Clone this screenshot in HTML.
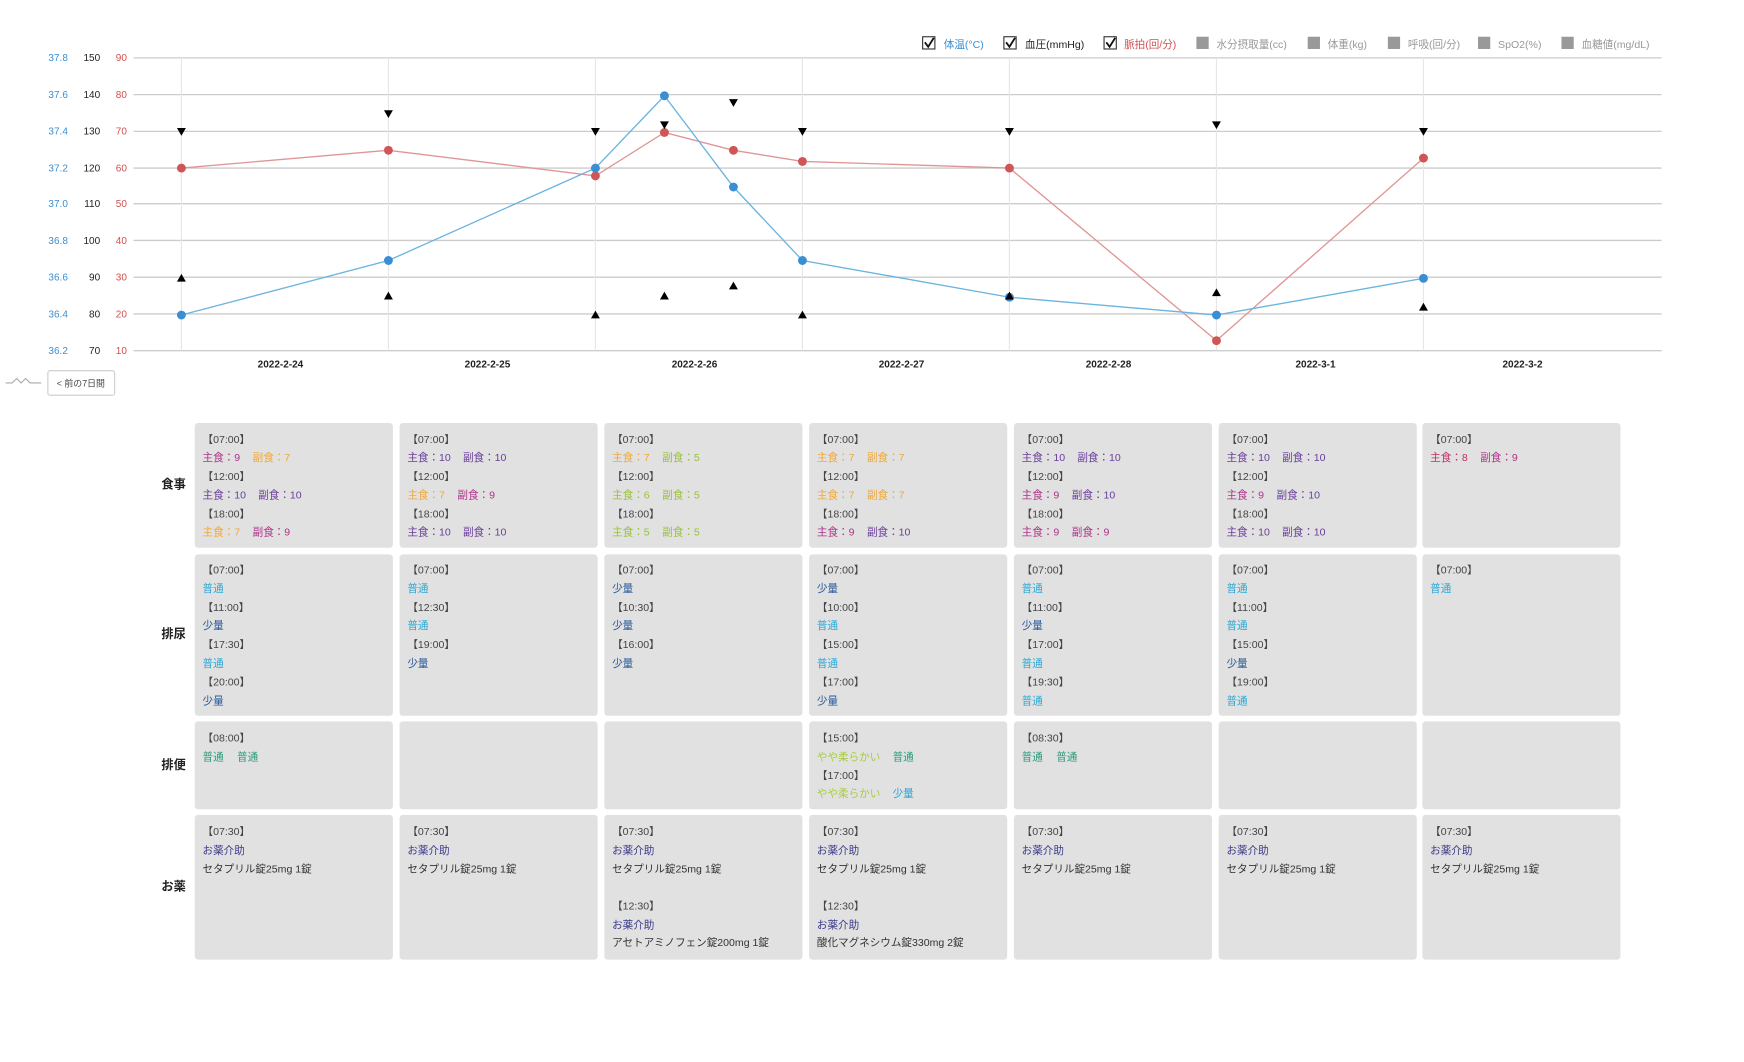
<!DOCTYPE html>
<html><head><meta charset="utf-8"><style>
html,body{margin:0;padding:0;background:#fff;}
svg{display:block;font-family:"Liberation Sans","Noto Sans CJK JP",sans-serif;}
.ax{font-size:9px;}
</style></head><body>
<svg width="1744" height="1062" viewBox="0 0 1567 954" preserveAspectRatio="none">
<g font-size="9.5">
<rect x="829" y="33" width="11" height="11" fill="#fff" stroke="#333"/><path d="M831 38 l3 4 l5 -8" stroke="#111" stroke-width="1.6" fill="none"/><text x="848" y="43" fill="#3a8fd4">体温(°C)</text>
<rect x="902" y="33" width="11" height="11" fill="#fff" stroke="#333"/><path d="M904 38 l3 4 l5 -8" stroke="#111" stroke-width="1.6" fill="none"/><text x="921" y="43" fill="#222">血圧(mmHg)</text>
<rect x="992" y="33" width="11" height="11" fill="#fff" stroke="#333"/><path d="M994 38 l3 4 l5 -8" stroke="#111" stroke-width="1.6" fill="none"/><text x="1010" y="43" fill="#d05050">脈拍(回/分)</text>
<rect x="1075" y="33" width="11" height="11" fill="#999"/><text x="1093" y="43" fill="#999">水分摂取量(cc)</text>
<rect x="1175" y="33" width="11" height="11" fill="#999"/><text x="1193" y="43" fill="#999">体重(kg)</text>
<rect x="1247" y="33" width="11" height="11" fill="#999"/><text x="1265" y="43" fill="#999">呼吸(回/分)</text>
<rect x="1328" y="33" width="11" height="11" fill="#999"/><text x="1346" y="43" fill="#999">SpO2(%)</text>
<rect x="1403" y="33" width="11" height="11" fill="#999"/><text x="1421" y="43" fill="#999">血糖値(mg/dL)</text>
</g>
<g stroke="#ccc" stroke-width="1.2">
<line x1="120" y1="52" x2="1493" y2="52"/><line x1="120" y1="85" x2="1493" y2="85"/><line x1="120" y1="118" x2="1493" y2="118"/><line x1="120" y1="151" x2="1493" y2="151"/><line x1="120" y1="183" x2="1493" y2="183"/><line x1="120" y1="216" x2="1493" y2="216"/><line x1="120" y1="249" x2="1493" y2="249"/><line x1="120" y1="282" x2="1493" y2="282"/><line x1="120" y1="315" x2="1493" y2="315"/>
</g>
<g stroke="#e6e6e6" stroke-width="1">
<line x1="163" y1="52" x2="163" y2="315"/><line x1="349" y1="52" x2="349" y2="315"/><line x1="535" y1="52" x2="535" y2="315"/><line x1="721" y1="52" x2="721" y2="315"/><line x1="907" y1="52" x2="907" y2="315"/><line x1="1093" y1="52" x2="1093" y2="315"/><line x1="1279" y1="52" x2="1279" y2="315"/>
</g>
<g class="ax" fill="#3a8fd4" text-anchor="end">
<text x="61" y="55">37.8</text><text x="61" y="88">37.6</text><text x="61" y="121">37.4</text><text x="61" y="154">37.2</text><text x="61" y="186">37.0</text><text x="61" y="219">36.8</text><text x="61" y="252">36.6</text><text x="61" y="285">36.4</text><text x="61" y="318">36.2</text>
</g>
<g class="ax" fill="#222" text-anchor="end">
<text x="90" y="55">150</text><text x="90" y="88">140</text><text x="90" y="121">130</text><text x="90" y="154">120</text><text x="90" y="186">110</text><text x="90" y="219">100</text><text x="90" y="252">90</text><text x="90" y="285">80</text><text x="90" y="318">70</text>
</g>
<g class="ax" fill="#d05050" text-anchor="end">
<text x="114" y="55">90</text><text x="114" y="88">80</text><text x="114" y="121">70</text><text x="114" y="154">60</text><text x="114" y="186">50</text><text x="114" y="219">40</text><text x="114" y="252">30</text><text x="114" y="285">20</text><text x="114" y="318">10</text>
</g>
<g font-size="9" font-weight="bold" fill="#222" text-anchor="middle">
<text x="252" y="330">2022-2-24</text><text x="438" y="330">2022-2-25</text><text x="624" y="330">2022-2-26</text><text x="810" y="330">2022-2-27</text><text x="996" y="330">2022-2-28</text><text x="1182" y="330">2022-3-1</text><text x="1368" y="330">2022-3-2</text>
</g>
<polyline fill="none" stroke="#e09595" stroke-width="1.2" points="163,151 349,135 535,158 597,119 659,135 721,145 907,151 1093,306 1279,142"/>
<polyline fill="none" stroke="#6ab4e0" stroke-width="1.2" points="163,283 349,234 535,151 597,86 659,168 721,234 907,267 1093,283 1279,250"/>
<g fill="#d05555"><circle cx="163" cy="151" r="4"/><circle cx="349" cy="135" r="4"/><circle cx="535" cy="158" r="4"/><circle cx="597" cy="119" r="4"/><circle cx="659" cy="135" r="4"/><circle cx="721" cy="145" r="4"/><circle cx="907" cy="151" r="4"/><circle cx="1093" cy="306" r="4"/><circle cx="1279" cy="142" r="4"/></g>
<g fill="#3a8fd4"><circle cx="163" cy="283" r="4"/><circle cx="349" cy="234" r="4"/><circle cx="535" cy="151" r="4"/><circle cx="597" cy="86" r="4"/><circle cx="659" cy="168" r="4"/><circle cx="721" cy="234" r="4"/><circle cx="907" cy="267" r="4"/><circle cx="1093" cy="283" r="4"/><circle cx="1279" cy="250" r="4"/></g>
<g fill="#000">
<path d="M159 115h8l-4 7z"/><path d="M345 99h8l-4 7z"/><path d="M531 115h8l-4 7z"/><path d="M593 109h8l-4 7z"/><path d="M655 89h8l-4 7z"/><path d="M717 115h8l-4 7z"/><path d="M903 115h8l-4 7z"/><path d="M1089 109h8l-4 7z"/><path d="M1275 115h8l-4 7z"/>
<path d="M159 253h8l-4 -7z"/><path d="M345 269h8l-4 -7z"/><path d="M531 286h8l-4 -7z"/><path d="M593 269h8l-4 -7z"/><path d="M655 260h8l-4 -7z"/><path d="M717 286h8l-4 -7z"/><path d="M903 269h8l-4 -7z"/><path d="M1089 266h8l-4 -7z"/><path d="M1275 279h8l-4 -7z"/>
</g>
<path d="M5 344 h6 l4 -4 l4 4 l4 -4 l4 4 h10" fill="none" stroke="#aaa" stroke-width="1"/>
<rect x="43" y="333" width="60" height="22" rx="2" fill="#fff" stroke="#ccc"/>
<text x="51" y="347" font-size="8" fill="#444">&lt; 前の7日間</text>
<g font-size="11" font-weight="bold" fill="#222">
<text x="145" y="439">食事</text><text x="145" y="573">排尿</text><text x="145" y="691">排便</text><text x="145" y="800">お薬</text>
</g>
<g fill="#e1e1e1">
<rect x="175" y="380" width="178" height="112" rx="3"/><rect x="359" y="380" width="178" height="112" rx="3"/><rect x="543" y="380" width="178" height="112" rx="3"/><rect x="727" y="380" width="178" height="112" rx="3"/><rect x="911" y="380" width="178" height="112" rx="3"/><rect x="1095" y="380" width="178" height="112" rx="3"/><rect x="1278" y="380" width="178" height="112" rx="3"/>
<rect x="175" y="498" width="178" height="145" rx="3"/><rect x="359" y="498" width="178" height="145" rx="3"/><rect x="543" y="498" width="178" height="145" rx="3"/><rect x="727" y="498" width="178" height="145" rx="3"/><rect x="911" y="498" width="178" height="145" rx="3"/><rect x="1095" y="498" width="178" height="145" rx="3"/><rect x="1278" y="498" width="178" height="145" rx="3"/>
<rect x="175" y="648" width="178" height="79" rx="3"/><rect x="359" y="648" width="178" height="79" rx="3"/><rect x="543" y="648" width="178" height="79" rx="3"/><rect x="727" y="648" width="178" height="79" rx="3"/><rect x="911" y="648" width="178" height="79" rx="3"/><rect x="1095" y="648" width="178" height="79" rx="3"/><rect x="1278" y="648" width="178" height="79" rx="3"/>
<rect x="175" y="732" width="178" height="130" rx="3"/><rect x="359" y="732" width="178" height="130" rx="3"/><rect x="543" y="732" width="178" height="130" rx="3"/><rect x="727" y="732" width="178" height="130" rx="3"/><rect x="911" y="732" width="178" height="130" rx="3"/><rect x="1095" y="732" width="178" height="130" rx="3"/><rect x="1278" y="732" width="178" height="130" rx="3"/>
</g>
<g font-size="9.5">
<g fill="#444"><text x="182" y="398">【07:00】</text><text x="182" y="431">【12:00】</text><text x="182" y="465">【18:00】</text>
<text x="366" y="398">【07:00】</text><text x="366" y="431">【12:00】</text><text x="366" y="465">【18:00】</text>
<text x="550" y="398">【07:00】</text><text x="550" y="431">【12:00】</text><text x="550" y="465">【18:00】</text>
<text x="734" y="398">【07:00】</text><text x="734" y="431">【12:00】</text><text x="734" y="465">【18:00】</text>
<text x="918" y="398">【07:00】</text><text x="918" y="431">【12:00】</text><text x="918" y="465">【18:00】</text>
<text x="1102" y="398">【07:00】</text><text x="1102" y="431">【12:00】</text><text x="1102" y="465">【18:00】</text>
<text x="1285" y="398">【07:00】</text></g>
<text x="182" y="414" fill="#b0318a">主食：9</text><text x="227" y="414" fill="#f0a838">副食：7</text>
<text x="182" y="448" fill="#6a3d9a">主食：10</text><text x="232" y="448" fill="#6a3d9a">副食：10</text>
<text x="182" y="481" fill="#f0a838">主食：7</text><text x="227" y="481" fill="#b0318a">副食：9</text>
<text x="366" y="414" fill="#6a3d9a">主食：10</text><text x="416" y="414" fill="#6a3d9a">副食：10</text>
<text x="366" y="448" fill="#f0a838">主食：7</text><text x="411" y="448" fill="#b0318a">副食：9</text>
<text x="366" y="481" fill="#6a3d9a">主食：10</text><text x="416" y="481" fill="#6a3d9a">副食：10</text>
<text x="550" y="414" fill="#f0a838">主食：7</text><text x="595" y="414" fill="#98c23c">副食：5</text>
<text x="550" y="448" fill="#98c23c">主食：6</text><text x="595" y="448" fill="#98c23c">副食：5</text>
<text x="550" y="481" fill="#98c23c">主食：5</text><text x="595" y="481" fill="#98c23c">副食：5</text>
<text x="734" y="414" fill="#f0a838">主食：7</text><text x="779" y="414" fill="#f0a838">副食：7</text>
<text x="734" y="448" fill="#f0a838">主食：7</text><text x="779" y="448" fill="#f0a838">副食：7</text>
<text x="734" y="481" fill="#b0318a">主食：9</text><text x="779" y="481" fill="#6a3d9a">副食：10</text>
<text x="918" y="414" fill="#6a3d9a">主食：10</text><text x="968" y="414" fill="#6a3d9a">副食：10</text>
<text x="918" y="448" fill="#b0318a">主食：9</text><text x="963" y="448" fill="#6a3d9a">副食：10</text>
<text x="918" y="481" fill="#b0318a">主食：9</text><text x="963" y="481" fill="#b0318a">副食：9</text>
<text x="1102" y="414" fill="#6a3d9a">主食：10</text><text x="1152" y="414" fill="#6a3d9a">副食：10</text>
<text x="1102" y="448" fill="#b0318a">主食：9</text><text x="1147" y="448" fill="#6a3d9a">副食：10</text>
<text x="1102" y="481" fill="#6a3d9a">主食：10</text><text x="1152" y="481" fill="#6a3d9a">副食：10</text>
<text x="1285" y="414" fill="#c0306a">主食：8</text><text x="1330" y="414" fill="#b0318a">副食：9</text>
<g fill="#444">
<text x="182" y="515">【07:00】</text><text x="182" y="549">【11:00】</text><text x="182" y="582">【17:30】</text><text x="182" y="616">【20:00】</text>
<text x="366" y="515">【07:00】</text><text x="366" y="549">【12:30】</text><text x="366" y="582">【19:00】</text>
<text x="550" y="515">【07:00】</text><text x="550" y="549">【10:30】</text><text x="550" y="582">【16:00】</text>
<text x="734" y="515">【07:00】</text><text x="734" y="549">【10:00】</text><text x="734" y="582">【15:00】</text><text x="734" y="616">【17:00】</text>
<text x="918" y="515">【07:00】</text><text x="918" y="549">【11:00】</text><text x="918" y="582">【17:00】</text><text x="918" y="616">【19:30】</text>
<text x="1102" y="515">【07:00】</text><text x="1102" y="549">【11:00】</text><text x="1102" y="582">【15:00】</text><text x="1102" y="616">【19:00】</text>
<text x="1285" y="515">【07:00】</text>
</g>
<g fill="#29a8d8">
<text x="182" y="532">普通</text><text x="182" y="599">普通</text>
<text x="366" y="532">普通</text><text x="366" y="565">普通</text>
<text x="734" y="565">普通</text><text x="734" y="599">普通</text>
<text x="918" y="532">普通</text><text x="918" y="599">普通</text><text x="918" y="633">普通</text>
<text x="1102" y="532">普通</text><text x="1102" y="565">普通</text><text x="1102" y="633">普通</text>
<text x="1285" y="532">普通</text>
</g>
<g fill="#2a5a9a">
<text x="182" y="565">少量</text><text x="182" y="633">少量</text>
<text x="366" y="599">少量</text>
<text x="550" y="532">少量</text><text x="550" y="565">少量</text><text x="550" y="599">少量</text>
<text x="734" y="532">少量</text><text x="734" y="633">少量</text>
<text x="918" y="565">少量</text>
<text x="1102" y="599">少量</text>
</g>
<g fill="#444"><text x="182" y="666">【08:00】</text><text x="734" y="666">【15:00】</text><text x="734" y="700">【17:00】</text><text x="918" y="666">【08:30】</text></g>
<g fill="#2a9a7a"><text x="182" y="683">普通</text><text x="213" y="683">普通</text><text x="802" y="683">普通</text><text x="918" y="683">普通</text><text x="949" y="683">普通</text></g>
<g fill="#a8cc40"><text x="734" y="683">やや柔らかい</text><text x="734" y="716">やや柔らかい</text></g>
<text x="802" y="716" fill="#29a8d8">少量</text>
<g fill="#444"><text x="182" y="750">【07:30】</text><text x="366" y="750">【07:30】</text><text x="550" y="750">【07:30】</text><text x="734" y="750">【07:30】</text><text x="918" y="750">【07:30】</text><text x="1102" y="750">【07:30】</text><text x="1285" y="750">【07:30】</text>
<text x="550" y="817">【12:30】</text><text x="734" y="817">【12:30】</text></g>
<g fill="#3a3a8a"><text x="182" y="767">お薬介助</text><text x="366" y="767">お薬介助</text><text x="550" y="767">お薬介助</text><text x="734" y="767">お薬介助</text><text x="918" y="767">お薬介助</text><text x="1102" y="767">お薬介助</text><text x="1285" y="767">お薬介助</text>
<text x="550" y="834">お薬介助</text><text x="734" y="834">お薬介助</text></g>
<g fill="#333"><text x="182" y="784">セタプリル錠25mg 1錠</text><text x="366" y="784">セタプリル錠25mg 1錠</text><text x="550" y="784">セタプリル錠25mg 1錠</text><text x="734" y="784">セタプリル錠25mg 1錠</text><text x="918" y="784">セタプリル錠25mg 1錠</text><text x="1102" y="784">セタプリル錠25mg 1錠</text><text x="1285" y="784">セタプリル錠25mg 1錠</text>
<text x="550" y="850">アセトアミノフェン錠200mg 1錠</text><text x="734" y="850">酸化マグネシウム錠330mg 2錠</text></g>
</g>
</svg>
</body></html>
